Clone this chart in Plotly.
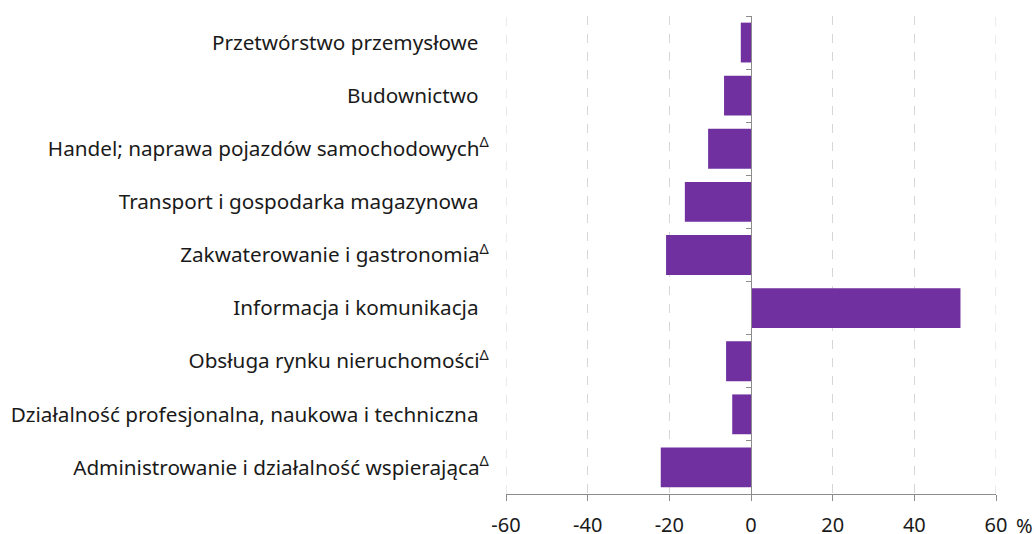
import plotly.graph_objects as go

categories = [
    "Przetwórstwo przemysłowe",
    "Budownictwo",
    "Handel; naprawa pojazdów samochodowych",
    "Transport i gospodarka magazynowa",
    "Zakwaterowanie i gastronomia",
    "Informacja i komunikacja",
    "Obsługa rynku nieruchomości",
    "Działalność profesjonalna, naukowa i techniczna",
    "Administrowanie i działalność wspierająca",
]
delta_flags = [False, False, True, False, True, False, True, False, True]
values = [-2.5, -6.6, -10.5, -16.2, -20.8, 51.3, -6.1, -4.6, -22.1]
x_ticks = [-60, -40, -20, 0, 20, 40, 60]

labels = [c + ("<sup>Δ</sup>" if d else "\u2002") for c, d in zip(categories, delta_flags)]
FONT = "Noto Sans"
BAR = "#7030a0"
AX = "#8c8c8c"
GRID = "#d6d6d6"

fig = go.Figure()
fig.add_trace(go.Bar(
    y=list(range(len(categories))), x=values, orientation="h",
    marker=dict(color=BAR, line=dict(width=0)),
    hoverinfo="x",
))

fig.update_layout(
    width=1036, height=534,
    margin=dict(l=506, r=40, t=16, b=40, autoexpand=False),
    paper_bgcolor="white", plot_bgcolor="white",
    showlegend=False, bargap=0.25,
    font=dict(family=FONT, color="#1a1a1a"),
    xaxis=dict(
        range=[-60, 60], tickvals=x_ticks, ticktext=[str(v) for v in x_ticks],
        showgrid=True, gridcolor=GRID, griddash="dash", gridwidth=1,
        zeroline=False, showline=True, linecolor=AX, linewidth=1,
        ticks="outside", ticklen=6, tickcolor=AX,
        tickfont=dict(size=20, family=FONT, color="#1a1a1a"),
        ticklabelstandoff=7, automargin=False,
    ),
    yaxis=dict(
        range=[8.5, -0.5], tickvals=list(range(len(categories))), ticktext=labels,
        showgrid=False, zeroline=False, showline=False,
        ticks="outside", ticklen=12, tickcolor="rgba(0,0,0,0)",
        tickfont=dict(size=20.7, family=FONT, color="#1a1a1a"),
        automargin=False,
    ),
    yaxis2=dict(
        overlaying="y", anchor="free", position=0.5, side="left",
        range=[8.5, -0.5], tickvals=[i - 0.5 for i in range(len(categories) + 1)],
        showticklabels=False, showgrid=False, zeroline=False,
        showline=True, linecolor=AX, linewidth=1,
        ticks="outside", ticklen=5, tickcolor=AX, automargin=False,
    ),
)
# invisible trace to activate yaxis2
fig.add_trace(go.Scatter(x=[0], y=[0], yaxis="y2", mode="markers",
                         marker=dict(opacity=0), hoverinfo="skip", showlegend=False))

# edge gridlines (plotly hides gridlines at the range ends)
for xv in (x_ticks[0], x_ticks[-1]):
    fig.add_shape(type="line", xref="x", yref="paper", x0=xv, x1=xv, y0=0, y1=1,
                  line=dict(color=GRID, width=1, dash="dash"), layer="below")

fig.add_annotation(text="%", xref="paper", yref="paper", x=1.059, y=-0.065,
                   xanchor="center", yanchor="middle", showarrow=False,
                   font=dict(size=20, family=FONT, color="#1a1a1a"))

fig.write_html("out.html", config={"displayModeBar": False},
               post_script="document.body.style.margin='0';document.body.style.overflow='hidden';")
